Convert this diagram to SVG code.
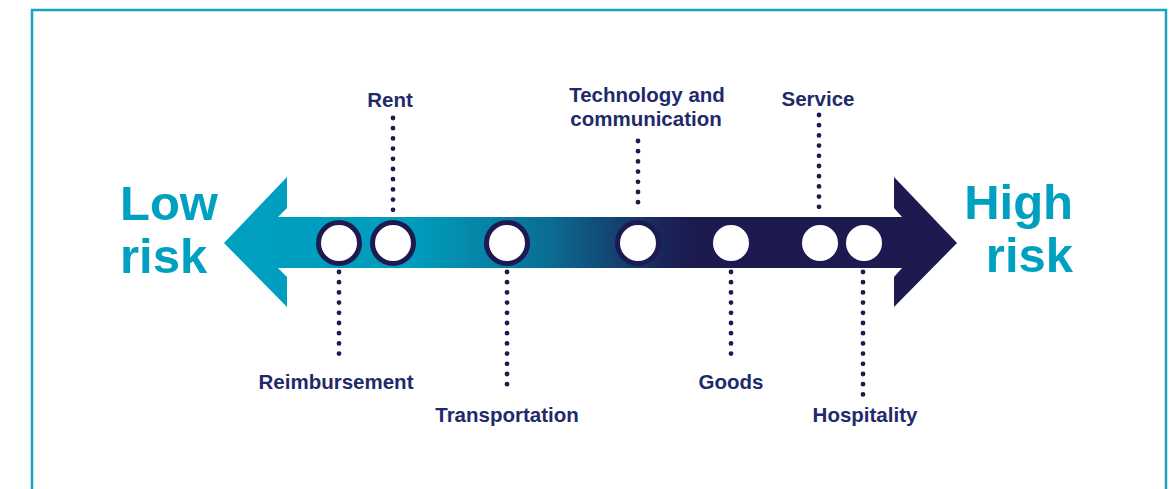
<svg xmlns="http://www.w3.org/2000/svg" width="1170" height="489" viewBox="0 0 1170 489">
<defs>
<linearGradient id="shaft" gradientUnits="userSpaceOnUse" x1="225" y1="0" x2="957" y2="0">
<stop offset="0" stop-color="#00a0c0"/>
<stop offset="0.26" stop-color="#009cbc"/>
<stop offset="0.44" stop-color="#0a6e93"/>
<stop offset="0.6" stop-color="#1a2458"/>
<stop offset="0.64" stop-color="#1c1a4f"/>
<stop offset="1" stop-color="#1c1a4f"/>
</linearGradient>
</defs>
<style>
.lbl{font-family:"Liberation Sans",Arial,sans-serif;font-weight:bold;font-size:20.5px;fill:#1f2a6b;text-anchor:middle}
.big{font-family:"Liberation Sans",Arial,sans-serif;font-weight:bold;font-size:49px;fill:#00a0c0}
.dots{stroke:#1c1a4f;stroke-width:4.8;stroke-linecap:round;stroke-dasharray:0 10.2;fill:none}
.node{fill:#ffffff;stroke:#1c1a50;stroke-width:5}
</style>
<rect width="1170" height="489" fill="#ffffff"/>
<path d="M32,495 V10 H1166 V495" fill="none" stroke="#17a3bf" stroke-width="2.5"/>
<g id="arrow">
<polygon fill="url(#shaft)" points="224,243 287,177 287,208 278,217 902,217 894,208 894,177 957,243 894,307 894,277 902,268 278,268 287,277 287,307"/>
</g>
<g id="ends">
<text class="big" x="120" y="220">Low</text>
<text class="big" x="120" y="273">risk</text>
<text class="big" x="1073" y="219" text-anchor="end">High</text>
<text class="big" x="1073" y="272" text-anchor="end">risk</text>
</g>
<g id="connectors">
<line class="dots" x1="339" y1="272" x2="339" y2="360"/>
<line class="dots" x1="393" y1="118" x2="393" y2="210"/>
<line class="dots" x1="507" y1="272" x2="507" y2="394"/>
<line class="dots" x1="638" y1="141" x2="638" y2="212"/>
<line class="dots" x1="731" y1="272" x2="731" y2="362"/>
<line class="dots" x1="819" y1="115" x2="819" y2="215"/>
<line class="dots" x1="863" y1="272" x2="863" y2="395"/>
</g>
<g id="reimbursement"><circle class="node" cx="339" cy="243" r="20.5"/><text class="lbl" x="336" y="389">Reimbursement</text></g>
<g id="rent"><circle class="node" cx="393" cy="243" r="20.5"/><text class="lbl" x="390" y="107">Rent</text></g>
<g id="transportation"><circle class="node" cx="507" cy="243" r="20.5"/><text class="lbl" x="507" y="422">Transportation</text></g>
<g id="technology"><circle class="node" cx="638" cy="243" r="20.5"/><text class="lbl" x="647" y="102">Technology and</text><text class="lbl" x="646" y="126">communication</text></g>
<g id="goods"><circle class="node" cx="731" cy="243" r="20.5"/><text class="lbl" x="731" y="389">Goods</text></g>
<g id="service"><circle class="node" cx="820" cy="243" r="20.5"/><text class="lbl" x="818" y="106">Service</text></g>
<g id="hospitality"><circle class="node" cx="864" cy="243" r="20.5"/><text class="lbl" x="865" y="422">Hospitality</text></g>
</svg>
